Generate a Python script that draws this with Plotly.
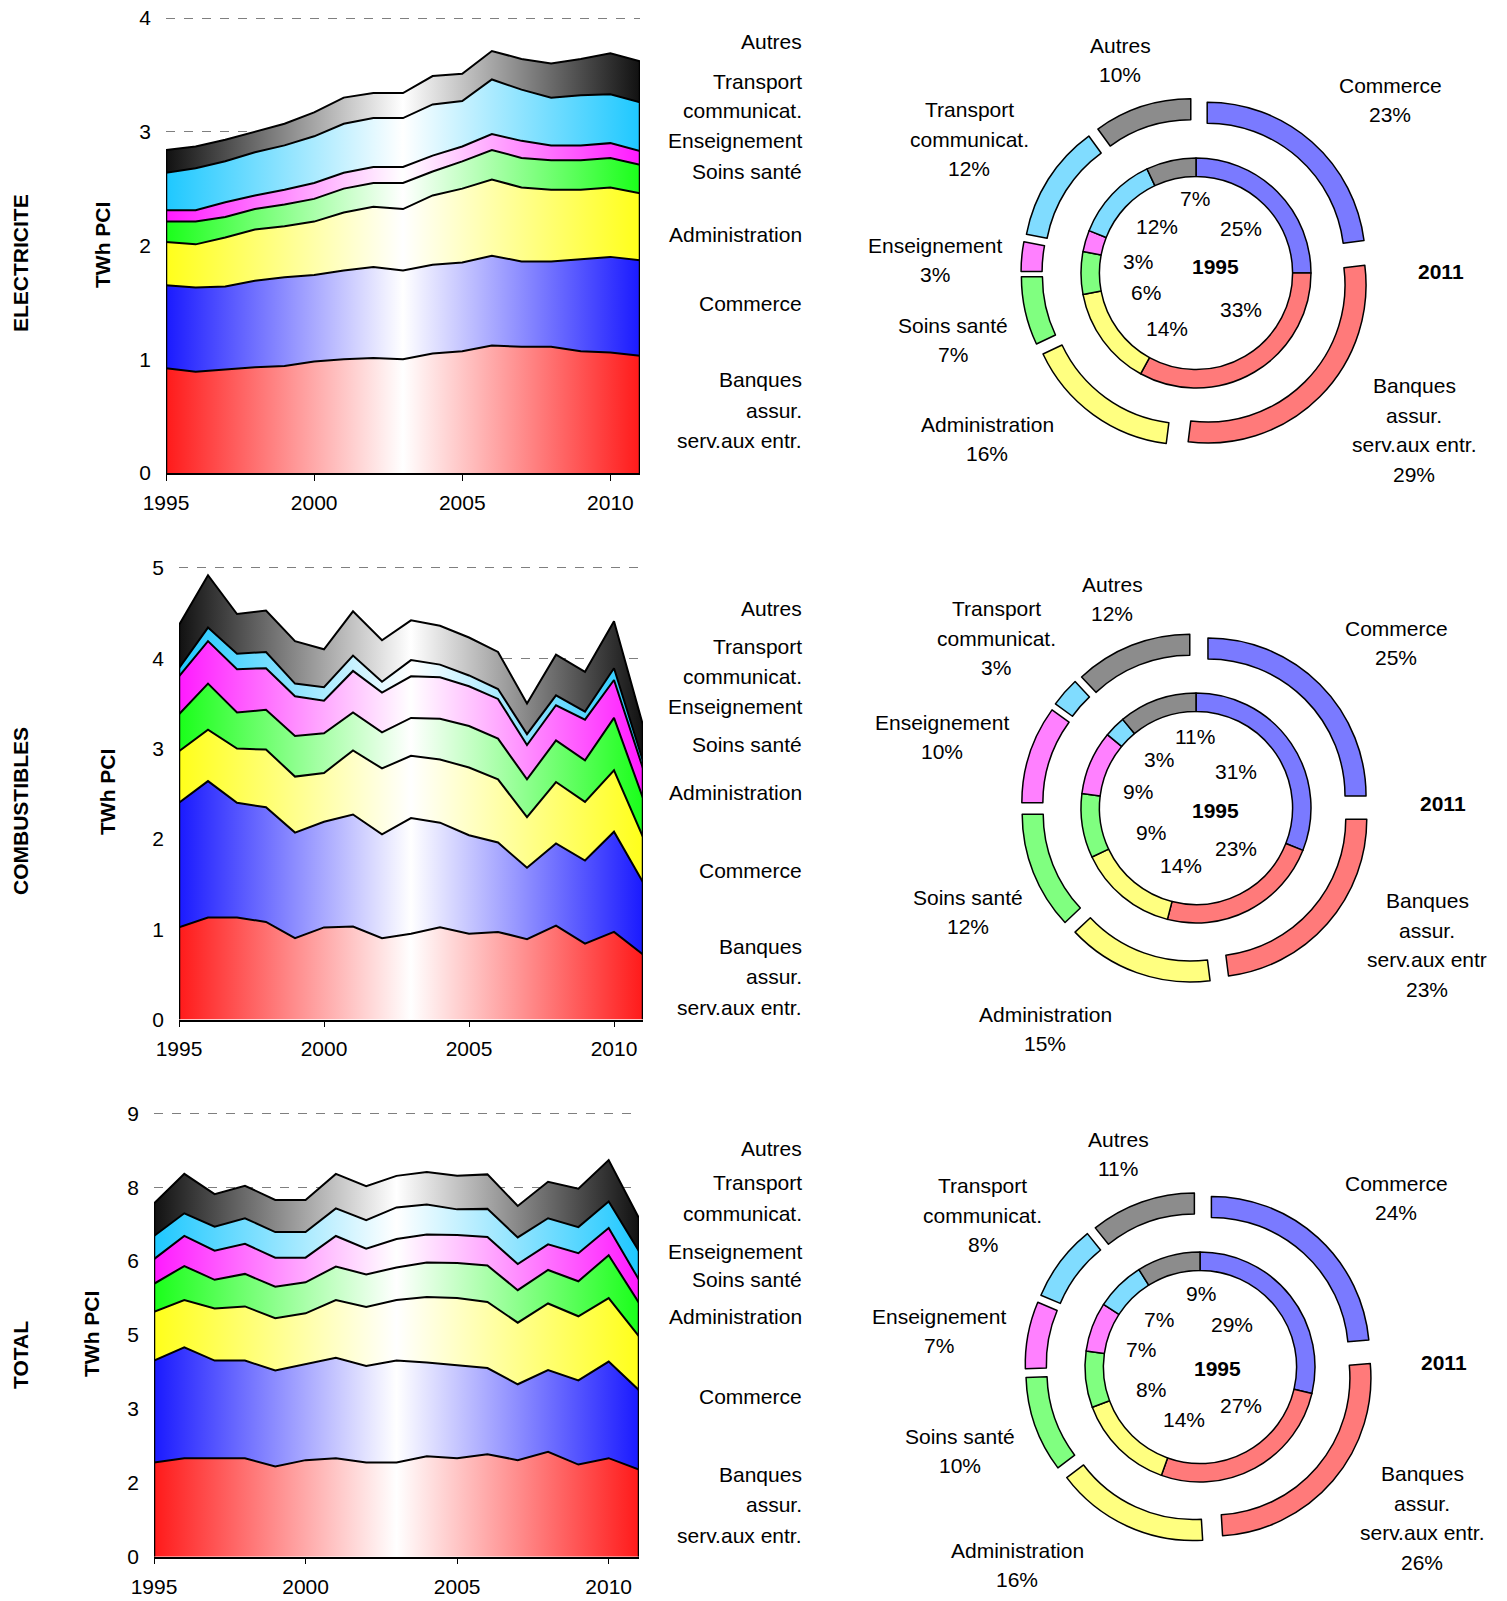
import plotly.graph_objects as go

W, H = 1507, 1601
FONT = "Liberation Sans, Arial, sans-serif"

years = list(range(1995, 2012))
series_names = ["Banques", "Commerce", "Administration", "Soins santé", "Enseignement", "Transport", "Autres"]
series_colors = ["#ff1a1a", "#1a1aff", "#ffff1a", "#1aff1a", "#ff1aff", "#1ec8ff", "#111111"]

# ---- ELECTRICITE (TWh PCI), per sector ----
elec_banques   = [0.92, 0.89, 0.91, 0.93, 0.94, 0.98, 1.00, 1.01, 1.00, 1.05, 1.07, 1.12, 1.11, 1.11, 1.07, 1.06, 1.03]
elec_commerce  = [0.73, 0.74, 0.73, 0.76, 0.78, 0.76, 0.78, 0.80, 0.78, 0.78, 0.78, 0.79, 0.75, 0.75, 0.81, 0.84, 0.84]
elec_admin     = [0.38, 0.38, 0.43, 0.45, 0.45, 0.47, 0.51, 0.53, 0.54, 0.61, 0.65, 0.67, 0.65, 0.63, 0.61, 0.61, 0.59]
elec_soins     = [0.18, 0.20, 0.18, 0.18, 0.19, 0.20, 0.21, 0.21, 0.23, 0.21, 0.24, 0.26, 0.26, 0.26, 0.26, 0.26, 0.25]
elec_enseig    = [0.10, 0.10, 0.13, 0.12, 0.13, 0.14, 0.14, 0.14, 0.14, 0.14, 0.13, 0.14, 0.15, 0.13, 0.13, 0.13, 0.12]
elec_transport = [0.33, 0.37, 0.36, 0.38, 0.39, 0.41, 0.43, 0.43, 0.43, 0.45, 0.40, 0.48, 0.45, 0.42, 0.44, 0.43, 0.43]
elec_autres    = [0.20, 0.19, 0.19, 0.18, 0.19, 0.21, 0.23, 0.22, 0.22, 0.25, 0.24, 0.25, 0.27, 0.30, 0.32, 0.36, 0.36]

# ---- COMBUSTIBLES ----
comb_banques   = [1.02, 1.13, 1.13, 1.08, 0.90, 1.02, 1.03, 0.90, 0.95, 1.02, 0.95, 0.97, 0.89, 1.04, 0.84, 0.97, 0.72]
comb_commerce  = [1.38, 1.51, 1.27, 1.27, 1.17, 1.17, 1.24, 1.15, 1.28, 1.16, 1.09, 0.99, 0.79, 0.91, 0.92, 1.11, 0.80]
comb_admin     = [0.57, 0.57, 0.60, 0.64, 0.62, 0.54, 0.71, 0.73, 0.69, 0.70, 0.75, 0.70, 0.56, 0.68, 0.65, 0.68, 0.50]
comb_soins     = [0.41, 0.51, 0.40, 0.44, 0.45, 0.44, 0.42, 0.40, 0.42, 0.45, 0.46, 0.45, 0.42, 0.46, 0.46, 0.58, 0.43]
comb_enseig    = [0.42, 0.47, 0.48, 0.46, 0.44, 0.36, 0.46, 0.44, 0.46, 0.46, 0.44, 0.44, 0.38, 0.39, 0.45, 0.42, 0.33]
comb_transport = [0.09, 0.15, 0.17, 0.18, 0.14, 0.15, 0.17, 0.12, 0.18, 0.14, 0.12, 0.11, 0.12, 0.11, 0.09, 0.13, 0.08]
comb_autres    = [0.48, 0.58, 0.44, 0.46, 0.47, 0.42, 0.49, 0.46, 0.44, 0.43, 0.42, 0.41, 0.34, 0.45, 0.44, 0.52, 0.40]

# ---- TOTAL ----
tot_banques   = [1.91, 2.00, 2.00, 2.00, 1.83, 1.96, 2.00, 1.91, 1.91, 2.04, 2.00, 2.08, 1.96, 2.13, 1.87, 2.00, 1.77]
tot_commerce  = [2.07, 2.25, 1.98, 1.98, 1.95, 1.95, 2.04, 1.96, 2.07, 1.90, 1.88, 1.75, 1.54, 1.66, 1.71, 1.96, 1.61]
tot_admin     = [0.99, 0.96, 1.06, 1.10, 1.06, 1.03, 1.17, 1.20, 1.23, 1.33, 1.37, 1.34, 1.25, 1.35, 1.30, 1.29, 1.09]
tot_soins     = [0.57, 0.69, 0.58, 0.66, 0.64, 0.63, 0.68, 0.66, 0.66, 0.70, 0.71, 0.74, 0.66, 0.68, 0.71, 0.87, 0.68]
tot_enseig    = [0.50, 0.61, 0.59, 0.61, 0.59, 0.50, 0.62, 0.52, 0.58, 0.57, 0.57, 0.58, 0.53, 0.52, 0.57, 0.55, 0.47]
tot_transport = [0.47, 0.46, 0.49, 0.52, 0.52, 0.52, 0.56, 0.58, 0.64, 0.61, 0.52, 0.57, 0.54, 0.53, 0.53, 0.54, 0.58]
tot_autres    = [0.66, 0.80, 0.66, 0.66, 0.65, 0.65, 0.70, 0.69, 0.64, 0.66, 0.68, 0.70, 0.64, 0.74, 0.78, 0.84, 0.67]

# ---- Ring shares (%) ; order: Commerce, Banques, Administration, Soins, Enseignement, Transport, Autres ----
pie_categories = ["Commerce", "Banques", "Administration", "Soins santé", "Enseignement", "Transport", "Autres"]
pie_colors = ["#7a7aff", "#ff7a7a", "#ffff80", "#80ff80", "#ff80ff", "#80dcff", "#8c8c8c"]
elec_share_1995 = [25, 33, 14, 6, 3, 12, 7]
elec_share_2011 = [23, 29, 16, 7, 3, 12, 10]
comb_share_1995 = [31, 23, 14, 9, 9, 3, 11]
comb_share_2011 = [25, 23, 15, 12, 10, 3, 12]
tot_share_1995 = [29, 27, 14, 8, 7, 7, 9]
tot_share_2011 = [24, 26, 16, 10, 7, 8, 11]

# y tick values (total axis has 1.5 steps, labels rounded half-up)
elec_yticks = [0, 1, 2, 3, 4]
comb_yticks = [0, 1, 2, 3, 4, 5]
tot_yticks = [0, 1.5, 3, 4.5, 6, 7.5, 9]


def X(px):
    return px / W


def Y(py):
    return 1 - py / H


def tick_text(v):
    return str(int(v + 0.5))


pie_names = {
    "Commerce": ["Commerce"],
    "Banques": ["Banques", "assur.", "serv.aux entr."],
    "Administration": ["Administration"],
    "Soins santé": ["Soins santé"],
    "Enseignement": ["Enseignement"],
    "Transport": ["Transport", "communicat."],
    "Autres": ["Autres"],
}

charts = [
    dict(title="ELECTRICITE", series=[elec_banques, elec_commerce, elec_admin, elec_soins, elec_enseig, elec_transport, elec_autres],
         yticks=elec_yticks, ymax=4, plot=(166, 640, 473, 18), title_xy=(20, 263), unit_xy=(103, 245),
         right_labels=[("Autres", 42), ("Transport", 81), ("communicat.", 110), ("Enseignement", 141), ("Soins santé", 172),
                       ("Administration", 234), ("Commerce", 304), ("Banques", 380), ("assur.", 410), ("serv.aux entr.", 440)],
         s1995=elec_share_1995, s2011=elec_share_2011, center=(1196, 273),
         outer_xy=[(1390, 100), (1414, 430), (987, 439), (953, 340), (935, 260), (969, 139), (1120, 60)],
         inner_xy=[(1241, 229), (1241, 309), (1167, 329), (1146, 292), (1138, 261), (1157, 227), (1195, 199)],
         y2011=(1441, 271), y1995=(1215, 266), banq_name=None),
    dict(title="COMBUSTIBLES", series=[comb_banques, comb_commerce, comb_admin, comb_soins, comb_enseig, comb_transport, comb_autres],
         yticks=comb_yticks, ymax=5, plot=(179, 643, 1019.5, 568), title_xy=(20, 811), unit_xy=(107, 792),
         right_labels=[("Autres", 609), ("Transport", 646), ("communicat.", 676), ("Enseignement", 707), ("Soins santé", 744),
                       ("Administration", 792), ("Commerce", 870), ("Banques", 947), ("assur.", 976), ("serv.aux entr.", 1007)],
         s1995=comb_share_1995, s2011=comb_share_2011, center=(1196, 808),
         outer_xy=[(1396, 643), (1427, 945), (1045, 1029), (968, 912), (942, 737), (996, 638), (1112, 599)],
         inner_xy=[(1236, 771), (1236, 848), (1181, 866), (1151, 832), (1138, 791), (1159, 760), (1195, 736)],
         y2011=(1443, 803), y1995=(1215, 810), banq_name=["Banques", "assur.", "serv.aux entr"]),
    dict(title="TOTAL", series=[tot_banques, tot_commerce, tot_admin, tot_soins, tot_enseig, tot_transport, tot_autres],
         yticks=tot_yticks, ymax=9, plot=(154, 639, 1556.7, 1113.3), title_xy=(20, 1355), unit_xy=(91, 1334),
         right_labels=[("Autres", 1148), ("Transport", 1182), ("communicat.", 1213), ("Enseignement", 1251), ("Soins santé", 1279),
                       ("Administration", 1316), ("Commerce", 1396), ("Banques", 1474), ("assur.", 1504), ("serv.aux entr.", 1535)],
         s1995=tot_share_1995, s2011=tot_share_2011, center=(1200, 1367),
         outer_xy=[(1396, 1198), (1422, 1518), (1017, 1565), (960, 1451), (939, 1331), (983, 1215), (1118, 1154)],
         inner_xy=[(1232, 1324), (1241, 1405), (1184, 1419), (1151, 1389), (1141, 1349), (1159, 1319), (1201, 1293)],
         y2011=(1444, 1362), y1995=(1217, 1368), banq_name=None),
]

fig = go.Figure()
annotations = []
layout = dict(
    width=W, height=H, margin=dict(l=0, r=0, t=0, b=0, autoexpand=False),
    paper_bgcolor="white", plot_bgcolor="white", showlegend=False,
    font=dict(family=FONT, size=21, color="black"),
)

OUTER_HALF = 175   # px, half size of outer ring domain (incl. pull)
OUTER_PULL = 0.107
OUTER_HOLE = 0.867
INNER_HALF = 115
INNER_HOLE = 0.84
PAD = 1.01         # small headroom so the top dashed gridline is drawn
LINE_H = 29.5      # line spacing of the ring labels (px)


def txt(x, y, text, **kw):
    d = dict(x=X(x), y=Y(y), xref="paper", yref="paper", text=text, showarrow=False,
             xanchor="center", yanchor="middle", font=dict(size=21))
    d.update(kw)
    return d


for i, ch in enumerate(charts, start=1):
    sfx = "" if i == 1 else str(i)
    xref = "x" + sfx
    yref = "y" + sfx
    x0, x1, yb, yt = ch["plot"]
    yt_ext = yb - (yb - yt) * PAD
    for name, vals, col in zip(series_names, ch["series"], series_colors):
        fig.add_trace(go.Scatter(
            x=years, y=vals, name=name, mode="lines", stackgroup="s%d" % i,
            line=dict(color="black", width=2),
            fillgradient=dict(type="horizontal", colorscale=[[0, col], [0.5, "white"], [1, col]]),
            xaxis=xref, yaxis=yref, hoverinfo="skip",
        ))
    # black outline on the left and right edges of the stack
    totals = [sum(v) for v in zip(*ch["series"])]
    for xi, ti in ((years[0], totals[0]), (years[-1], totals[-1])):
        fig.add_trace(go.Scatter(x=[xi, xi], y=[0, ti], mode="lines", line=dict(color="black", width=2.5),
                                 xaxis=xref, yaxis=yref, hoverinfo="skip", cliponaxis=False))
    layout["xaxis" + sfx] = dict(
        domain=[X(x0), X(x1)], anchor=yref, range=[1995, 2011],
        tickvals=[1995, 2000, 2005, 2010], ticks="outside", ticklen=6, tickcolor="black",
        showline=True, linecolor="black", linewidth=1.5, showgrid=False, zeroline=False,
        tickfont=dict(size=21), ticklabelstandoff=4, automargin=False,
    )
    layout["yaxis" + sfx] = dict(
        domain=[Y(yb), Y(yt_ext)], anchor=xref, range=[0, ch["ymax"] * PAD],
        tickvals=ch["yticks"], ticktext=[tick_text(v) for v in ch["yticks"]],
        showgrid=True, gridcolor="#7f7f7f", griddash="dash", gridwidth=1,
        zeroline=False, showline=False, ticks="", tickfont=dict(size=21), ticklabelstandoff=14,
        automargin=False,
    )
    # section title & unit
    annotations.append(txt(*ch["title_xy"], "<b>%s</b>" % ch["title"], textangle=-90))
    annotations.append(txt(*ch["unit_xy"], "<b>TWh PCI</b>", textangle=-90))
    for label, ypx in ch["right_labels"]:
        annotations.append(txt(804, ypx, label, xanchor="right"))

    # rings
    cx, cy = ch["center"]
    fig.add_trace(go.Pie(
        values=ch["s2011"], labels=pie_categories, sort=False, direction="clockwise", rotation=0,
        hole=OUTER_HOLE, pull=[OUTER_PULL] * len(pie_categories),
        marker=dict(colors=pie_colors, line=dict(color="black", width=1.5)),
        textinfo="none", hoverinfo="skip", showlegend=False,
        domain=dict(x=[X(cx - OUTER_HALF), X(cx + OUTER_HALF)], y=[Y(cy + OUTER_HALF), Y(cy - OUTER_HALF)]),
    ))
    fig.add_trace(go.Pie(
        values=ch["s1995"], labels=pie_categories, sort=False, direction="clockwise", rotation=0,
        hole=INNER_HOLE,
        marker=dict(colors=pie_colors, line=dict(color="black", width=1.5)),
        textinfo="none", hoverinfo="skip", showlegend=False,
        domain=dict(x=[X(cx - INNER_HALF), X(cx + INNER_HALF)], y=[Y(cy + INNER_HALF), Y(cy - INNER_HALF)]),
    ))
    for k, cat in enumerate(pie_categories):
        lines = list(pie_names[cat])
        if cat == "Banques" and ch["banq_name"]:
            lines = list(ch["banq_name"])
        lines.append("%d%%" % ch["s2011"][k])
        ox, oy = ch["outer_xy"][k]
        n = len(lines)
        for j, ln in enumerate(lines):
            annotations.append(txt(ox, oy + (j - (n - 1) / 2) * LINE_H, ln))
        ix, iy = ch["inner_xy"][k]
        annotations.append(txt(ix, iy, "%d%%" % ch["s1995"][k]))
    annotations.append(txt(*ch["y2011"], "<b>2011</b>"))
    annotations.append(txt(*ch["y1995"], "<b>1995</b>"))

layout["annotations"] = annotations
fig.update_layout(**layout)
fig.write_html("out.html", config={"displayModeBar": False},
               post_script="document.body.style.margin='0px';document.body.style.overflow='hidden';")
